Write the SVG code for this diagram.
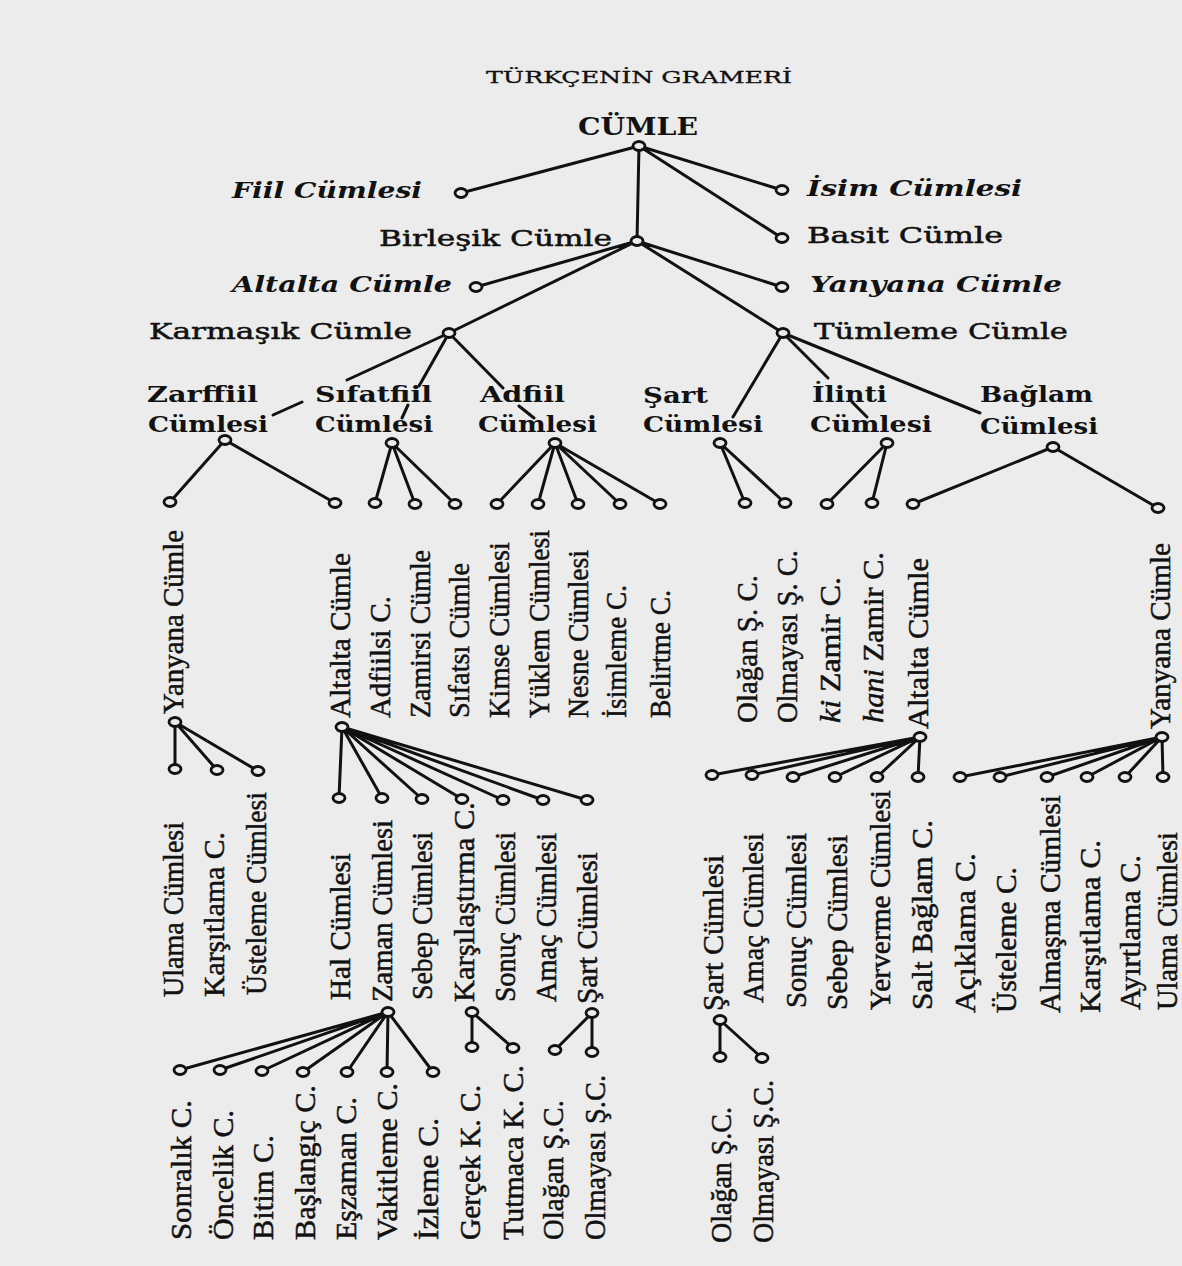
<svg xmlns="http://www.w3.org/2000/svg" xmlns:xlink="http://www.w3.org/1999/xlink" width="1182" height="1266" viewBox="0 0 1182 1266">
<style>
.bg{fill:#ececec}
.ln{stroke:#111;stroke-width:3;fill:none;stroke-linecap:round}
.o{fill:#ececec;stroke:#111;stroke-width:2.8}
text{fill:#111;font-family:"Liberation Serif","DejaVu Serif",serif}
.ti{font-family:"DejaVu Serif","Liberation Serif",serif;font-size:16px;stroke:#111;stroke-width:0.3}
.hd{font-family:"DejaVu Serif","Liberation Serif",serif;font-size:24px;font-weight:bold}
.it{font-family:"DejaVu Serif","Liberation Serif",serif;font-size:23px;font-weight:bold;font-style:italic}
.rg{font-family:"DejaVu Serif","Liberation Serif",serif;font-size:23px;stroke:#111;stroke-width:0.5}
.bd{font-family:"DejaVu Serif","Liberation Serif",serif;font-size:23px;font-weight:bold}
.v{font-size:30px;stroke:#111;stroke-width:0.5}
</style>
<defs>
<ellipse id="o" class="o" cx="0" cy="0" rx="6" ry="4.5"/>
</defs>
<rect class="bg" x="0" y="0" width="1182" height="1266"/>

<g id="connectors" class="ln">
<path d="M639,146 L461,193 M639,146 L637,241 M639,146 L782,190 M639,146 L782,238"/>
<path d="M637,241 L476,287 M637,241 L449,333 M637,241 L782,287 M637,241 L783,333"/>
<path d="M449,333 L347,380 M302,402 L273,415"/>
<path d="M449,333 L419,386 M408,405 L402,418"/>
<path d="M449,333 L503,388 M519,406 L534,418"/>
<path d="M783,333 L733,417"/>
<path d="M783,333 L828,378 M852,402 L867,417"/>
<path d="M783,333 L980,413"/>
<path d="M225,440 L170,502 M225,440 L335,503"/>
<path d="M392,443 L375,503 M392,443 L415,504 M392,443 L455,504"/>
<path d="M555,443 L497,504 M555,443 L538,504 M555,443 L578,504 M555,443 L620,504 M555,443 L660,504"/>
<path d="M720,443 L745,503 M720,443 L785,503"/>
<path d="M887,443 L827,504 M887,443 L872,503"/>
<path d="M1053,447 L913,504 M1053,447 L1158,508"/>
<path d="M175,722 L175,769 M175,722 L217,770 M175,722 L258,771"/>
<path d="M342,727 L339,798 M342,727 L382,798 M342,727 L422,799 M342,727 L462,799 M342,727 L503,800 M342,727 L543,800 M342,727 L587,800"/>
<path d="M920,737 L712,775 M920,737 L752,775 M920,737 L793,777 M920,737 L835,777 M920,737 L877,777 M920,737 L918,777"/>
<path d="M1162,737 L960,777 M1162,737 L1000,777 M1162,737 L1047,777 M1162,737 L1087,777 M1162,737 L1125,777 M1162,737 L1163,777"/>
<path d="M388,1012 L180,1070 M388,1012 L220,1070 M388,1012 L262,1071 M388,1012 L303,1072 M388,1012 L347,1072 M388,1012 L387,1072 M388,1012 L433,1072"/>
<path d="M472,1012 L472,1047 M472,1012 L513,1048"/>
<path d="M592,1013 L555,1050 M592,1013 L592,1052"/>
<path d="M720,1020 L720,1057 M720,1020 L762,1058"/>
</g>

<g id="title"><text class="ti" x="486" y="83" textLength="306" lengthAdjust="spacingAndGlyphs">TÜRKÇENİN GRAMERİ</text></g>

<g id="n-cumle"><text class="hd" x="578" y="135" textLength="120" lengthAdjust="spacingAndGlyphs">CÜMLE</text><use xlink:href="#o" x="639" y="146"/></g>
<g id="n-fiil"><text class="it" x="232" y="198" textLength="190" lengthAdjust="spacingAndGlyphs">Fiil Cümlesi</text><use xlink:href="#o" x="461" y="193"/></g>
<g id="n-isim"><text class="it" x="807" y="196" textLength="215" lengthAdjust="spacingAndGlyphs">İsim Cümlesi</text><use xlink:href="#o" x="782" y="190"/></g>
<g id="n-basit"><text class="rg" x="807" y="243" textLength="196" lengthAdjust="spacingAndGlyphs">Basit Cümle</text><use xlink:href="#o" x="782" y="238"/></g>
<g id="n-birlesik"><text class="rg" x="379" y="246" textLength="233" lengthAdjust="spacingAndGlyphs">Birleşik Cümle</text><use xlink:href="#o" x="637" y="241"/></g>
<g id="n-altalta0"><text class="it" x="232" y="292" textLength="220" lengthAdjust="spacingAndGlyphs">Altalta Cümle</text><use xlink:href="#o" x="476" y="287"/></g>
<g id="n-yanyana0"><text class="it" x="810" y="292" textLength="252" lengthAdjust="spacingAndGlyphs">Yanyana Cümle</text><use xlink:href="#o" x="782" y="287"/></g>
<g id="n-karmasik"><text class="rg" x="149" y="339" textLength="263" lengthAdjust="spacingAndGlyphs">Karmaşık Cümle</text><use xlink:href="#o" x="449" y="333"/></g>
<g id="n-tumleme"><text class="rg" x="814" y="339" textLength="254" lengthAdjust="spacingAndGlyphs">Tümleme Cümle</text><use xlink:href="#o" x="783" y="333"/></g>

<g id="n-zarffiil"><text class="bd" x="147" y="402" textLength="111" lengthAdjust="spacingAndGlyphs">Zarffiil</text><text class="bd" x="148" y="432" textLength="120" lengthAdjust="spacingAndGlyphs">Cümlesi</text><use xlink:href="#o" x="225" y="440"/></g>
<g id="n-sifatfiil"><text class="bd" x="315" y="402" textLength="117" lengthAdjust="spacingAndGlyphs">Sıfatfiil</text><text class="bd" x="315" y="432" textLength="118" lengthAdjust="spacingAndGlyphs">Cümlesi</text><use xlink:href="#o" x="392" y="443"/></g>
<g id="n-adfiil"><text class="bd" x="480" y="402" textLength="85" lengthAdjust="spacingAndGlyphs">Adfiil</text><text class="bd" x="478" y="432" textLength="119" lengthAdjust="spacingAndGlyphs">Cümlesi</text><use xlink:href="#o" x="555" y="443"/></g>
<g id="n-sart"><text class="bd" x="643" y="403" textLength="65" lengthAdjust="spacingAndGlyphs">Şart</text><text class="bd" x="643" y="432" textLength="120" lengthAdjust="spacingAndGlyphs">Cümlesi</text><use xlink:href="#o" x="720" y="443"/></g>
<g id="n-ilinti"><text class="bd" x="812" y="402" textLength="75" lengthAdjust="spacingAndGlyphs">İlinti</text><text class="bd" x="810" y="432" textLength="122" lengthAdjust="spacingAndGlyphs">Cümlesi</text><use xlink:href="#o" x="887" y="443"/></g>
<g id="n-baglam"><text class="bd" x="980" y="402" textLength="113" lengthAdjust="spacingAndGlyphs">Bağlam</text><text class="bd" x="980" y="434" textLength="118" lengthAdjust="spacingAndGlyphs">Cümlesi</text><use xlink:href="#o" x="1053" y="447"/></g>

<!-- left top vertical group -->
<g id="n-yanyana1"><use xlink:href="#o" x="170" y="502"/><use xlink:href="#o" x="175" y="722"/><text class="v" transform="translate(183,714) rotate(-90)" textLength="184" lengthAdjust="spacingAndGlyphs">Yanyana Cümle</text></g>
<g id="n-altalta1"><use xlink:href="#o" x="335" y="503"/><use xlink:href="#o" x="342" y="727"/><text class="v" transform="translate(350,718) rotate(-90)" textLength="165" lengthAdjust="spacingAndGlyphs">Altalta Cümle</text></g>
<g id="n-adfiilsi"><use xlink:href="#o" x="375" y="503"/><text class="v" transform="translate(390,718) rotate(-90)" textLength="122" lengthAdjust="spacingAndGlyphs">Adfiilsi C.</text></g>
<g id="n-zamirsi"><use xlink:href="#o" x="415" y="504"/><text class="v" transform="translate(430,718) rotate(-90)" textLength="168" lengthAdjust="spacingAndGlyphs">Zamirsi Cümle</text></g>
<g id="n-sifatsi"><use xlink:href="#o" x="455" y="504"/><text class="v" transform="translate(469,718) rotate(-90)" textLength="155" lengthAdjust="spacingAndGlyphs">Sıfatsı Cümle</text></g>
<g id="n-kimse"><use xlink:href="#o" x="497" y="504"/><text class="v" transform="translate(509,718) rotate(-90)" textLength="176" lengthAdjust="spacingAndGlyphs">Kimse Cümlesi</text></g>
<g id="n-yuklem"><use xlink:href="#o" x="538" y="504"/><text class="v" transform="translate(549,718) rotate(-90)" textLength="188" lengthAdjust="spacingAndGlyphs">Yüklem Cümlesi</text></g>
<g id="n-nesne"><use xlink:href="#o" x="578" y="504"/><text class="v" transform="translate(588,718) rotate(-90)" textLength="168" lengthAdjust="spacingAndGlyphs">Nesne Cümlesi</text></g>
<g id="n-isimleme"><use xlink:href="#o" x="620" y="504"/><text class="v" transform="translate(626,718) rotate(-90)" textLength="133" lengthAdjust="spacingAndGlyphs">İsimleme C.</text></g>
<g id="n-belirtme"><use xlink:href="#o" x="660" y="504"/><text class="v" transform="translate(670,718) rotate(-90)" textLength="128" lengthAdjust="spacingAndGlyphs">Belirtme C.</text></g>

<!-- right top vertical group -->
<g id="n-olagan1"><use xlink:href="#o" x="745" y="503"/><text class="v" transform="translate(757,723) rotate(-90)" textLength="148" lengthAdjust="spacingAndGlyphs">Olağan Ş. C.</text></g>
<g id="n-olmayasi1"><use xlink:href="#o" x="785" y="503"/><text class="v" transform="translate(797,723) rotate(-90)" textLength="173" lengthAdjust="spacingAndGlyphs">Olmayası Ş. C.</text></g>
<g id="n-kizamir"><use xlink:href="#o" x="827" y="504"/><text class="v" transform="translate(840,723) rotate(-90)" textLength="146" lengthAdjust="spacingAndGlyphs"><tspan font-style="italic">ki</tspan> Zamir C.</text></g>
<g id="n-hanizamir"><use xlink:href="#o" x="872" y="503"/><text class="v" transform="translate(883,723) rotate(-90)" textLength="171" lengthAdjust="spacingAndGlyphs"><tspan font-style="italic">hani</tspan> Zamir C.</text></g>
<g id="n-altalta2"><use xlink:href="#o" x="913" y="504"/><use xlink:href="#o" x="920" y="737"/><text class="v" transform="translate(928,729) rotate(-90)" textLength="171" lengthAdjust="spacingAndGlyphs">Altalta Cümle</text></g>
<g id="n-yanyana2"><use xlink:href="#o" x="1158" y="508"/><use xlink:href="#o" x="1162" y="737"/><text class="v" transform="translate(1170,729) rotate(-90)" textLength="186" lengthAdjust="spacingAndGlyphs">Yanyana Cümle</text></g>

<!-- middle left -->
<g id="n-ulama1"><use xlink:href="#o" x="175" y="769"/><text class="v" transform="translate(183,997) rotate(-90)" textLength="175" lengthAdjust="spacingAndGlyphs">Ulama Cümlesi</text></g>
<g id="n-karsitlama1"><use xlink:href="#o" x="217" y="770"/><text class="v" transform="translate(224,997) rotate(-90)" textLength="165" lengthAdjust="spacingAndGlyphs">Karşıtlama C.</text></g>
<g id="n-usteleme1"><use xlink:href="#o" x="258" y="771"/><text class="v" transform="translate(266,995) rotate(-90)" textLength="203" lengthAdjust="spacingAndGlyphs">Üsteleme Cümlesi</text></g>
<g id="n-hal"><use xlink:href="#o" x="339" y="798"/><text class="v" transform="translate(350,1000) rotate(-90)" textLength="147" lengthAdjust="spacingAndGlyphs">Hal Cümlesi</text></g>
<g id="n-zaman"><use xlink:href="#o" x="382" y="798"/><use xlink:href="#o" x="388" y="1012"/><text class="v" transform="translate(392,1002) rotate(-90)" textLength="182" lengthAdjust="spacingAndGlyphs">Zaman Cümlesi</text></g>
<g id="n-sebep1"><use xlink:href="#o" x="422" y="799"/><text class="v" transform="translate(432,1000) rotate(-90)" textLength="168" lengthAdjust="spacingAndGlyphs">Sebep Cümlesi</text></g>
<g id="n-karsilastirma"><use xlink:href="#o" x="462" y="799"/><use xlink:href="#o" x="472" y="1012"/><text class="v" transform="translate(474,1002) rotate(-90)" textLength="200" lengthAdjust="spacingAndGlyphs">Karşılaştırma C.</text></g>
<g id="n-sonuc1"><use xlink:href="#o" x="503" y="800"/><text class="v" transform="translate(515,1002) rotate(-90)" textLength="170" lengthAdjust="spacingAndGlyphs">Sonuç Cümlesi</text></g>
<g id="n-amac1"><use xlink:href="#o" x="543" y="800"/><text class="v" transform="translate(556,1002) rotate(-90)" textLength="169" lengthAdjust="spacingAndGlyphs">Amaç Cümlesi</text></g>
<g id="n-sart1"><use xlink:href="#o" x="587" y="800"/><use xlink:href="#o" x="592" y="1013"/><text class="v" transform="translate(597,1004) rotate(-90)" textLength="152" lengthAdjust="spacingAndGlyphs">Şart Cümlesi</text></g>

<!-- middle right -->
<g id="n-sart2"><use xlink:href="#o" x="712" y="775"/><use xlink:href="#o" x="720" y="1020"/><text class="v" transform="translate(723,1011) rotate(-90)" textLength="156" lengthAdjust="spacingAndGlyphs">Şart Cümlesi</text></g>
<g id="n-amac2"><use xlink:href="#o" x="752" y="775"/><text class="v" transform="translate(763,1003) rotate(-90)" textLength="170" lengthAdjust="spacingAndGlyphs">Amaç Cümlesi</text></g>
<g id="n-sonuc2"><use xlink:href="#o" x="793" y="777"/><text class="v" transform="translate(806,1008) rotate(-90)" textLength="175" lengthAdjust="spacingAndGlyphs">Sonuç Cümlesi</text></g>
<g id="n-sebep2"><use xlink:href="#o" x="835" y="777"/><text class="v" transform="translate(847,1010) rotate(-90)" textLength="175" lengthAdjust="spacingAndGlyphs">Sebep Cümlesi</text></g>
<g id="n-yerverme"><use xlink:href="#o" x="877" y="777"/><text class="v" transform="translate(890,1010) rotate(-90)" textLength="220" lengthAdjust="spacingAndGlyphs">Yerverme Cümlesi</text></g>
<g id="n-saltbaglam"><use xlink:href="#o" x="918" y="777"/><text class="v" transform="translate(932,1010) rotate(-90)" textLength="190" lengthAdjust="spacingAndGlyphs">Salt Bağlam C.</text></g>
<g id="n-aciklama"><use xlink:href="#o" x="960" y="777"/><text class="v" transform="translate(975,1013) rotate(-90)" textLength="160" lengthAdjust="spacingAndGlyphs">Açıklama C.</text></g>
<g id="n-usteleme2"><use xlink:href="#o" x="1000" y="777"/><text class="v" transform="translate(1016,1013) rotate(-90)" textLength="146" lengthAdjust="spacingAndGlyphs">Üsteleme C.</text></g>
<g id="n-almasma"><use xlink:href="#o" x="1047" y="777"/><text class="v" transform="translate(1060,1013) rotate(-90)" textLength="218" lengthAdjust="spacingAndGlyphs">Almaşma Cümlesi</text></g>
<g id="n-karsitlama2"><use xlink:href="#o" x="1087" y="777"/><text class="v" transform="translate(1100,1013) rotate(-90)" textLength="173" lengthAdjust="spacingAndGlyphs">Karşıtlama C.</text></g>
<g id="n-ayirtlama"><use xlink:href="#o" x="1125" y="777"/><text class="v" transform="translate(1140,1010) rotate(-90)" textLength="155" lengthAdjust="spacingAndGlyphs">Ayırtlama C.</text></g>
<g id="n-ulama2"><use xlink:href="#o" x="1163" y="777"/><text class="v" transform="translate(1177,1010) rotate(-90)" textLength="178" lengthAdjust="spacingAndGlyphs">Ulama Cümlesi</text></g>

<!-- bottom -->
<g id="n-sonralik"><use xlink:href="#o" x="180" y="1070"/><text class="v" transform="translate(191,1240) rotate(-90)" textLength="140" lengthAdjust="spacingAndGlyphs">Sonralık C.</text></g>
<g id="n-oncelik"><use xlink:href="#o" x="220" y="1070"/><text class="v" transform="translate(233,1240) rotate(-90)" textLength="130" lengthAdjust="spacingAndGlyphs">Öncelik C.</text></g>
<g id="n-bitim"><use xlink:href="#o" x="262" y="1071"/><text class="v" transform="translate(273,1240) rotate(-90)" textLength="105" lengthAdjust="spacingAndGlyphs">Bitim C.</text></g>
<g id="n-baslangic"><use xlink:href="#o" x="303" y="1072"/><text class="v" transform="translate(315,1240) rotate(-90)" textLength="155" lengthAdjust="spacingAndGlyphs">Başlangıç C.</text></g>
<g id="n-eszaman"><use xlink:href="#o" x="347" y="1072"/><text class="v" transform="translate(356,1240) rotate(-90)" textLength="143" lengthAdjust="spacingAndGlyphs">Eşzaman C.</text></g>
<g id="n-vakitleme"><use xlink:href="#o" x="387" y="1072"/><text class="v" transform="translate(397,1240) rotate(-90)" textLength="157" lengthAdjust="spacingAndGlyphs">Vakitleme C.</text></g>
<g id="n-izleme"><use xlink:href="#o" x="433" y="1072"/><text class="v" transform="translate(438,1240) rotate(-90)" textLength="122" lengthAdjust="spacingAndGlyphs">İzleme C.</text></g>
<g id="n-gercek"><use xlink:href="#o" x="472" y="1047"/><text class="v" transform="translate(480,1240) rotate(-90)" textLength="155" lengthAdjust="spacingAndGlyphs">Gerçek K. C.</text></g>
<g id="n-tutmaca"><use xlink:href="#o" x="513" y="1048"/><text class="v" transform="translate(523,1240) rotate(-90)" textLength="175" lengthAdjust="spacingAndGlyphs">Tutmaca K. C.</text></g>
<g id="n-olagan2"><use xlink:href="#o" x="555" y="1050"/><text class="v" transform="translate(563,1240) rotate(-90)" textLength="140" lengthAdjust="spacingAndGlyphs">Olağan Ş.C.</text></g>
<g id="n-olmayasi2"><use xlink:href="#o" x="592" y="1052"/><text class="v" transform="translate(605,1240) rotate(-90)" textLength="165" lengthAdjust="spacingAndGlyphs">Olmayası Ş.C.</text></g>
<g id="n-olagan3"><use xlink:href="#o" x="720" y="1057"/><text class="v" transform="translate(731,1243) rotate(-90)" textLength="136" lengthAdjust="spacingAndGlyphs">Olağan Ş.C.</text></g>
<g id="n-olmayasi3"><use xlink:href="#o" x="762" y="1058"/><text class="v" transform="translate(773,1243) rotate(-90)" textLength="163" lengthAdjust="spacingAndGlyphs">Olmayası Ş.C.</text></g>
</svg>
